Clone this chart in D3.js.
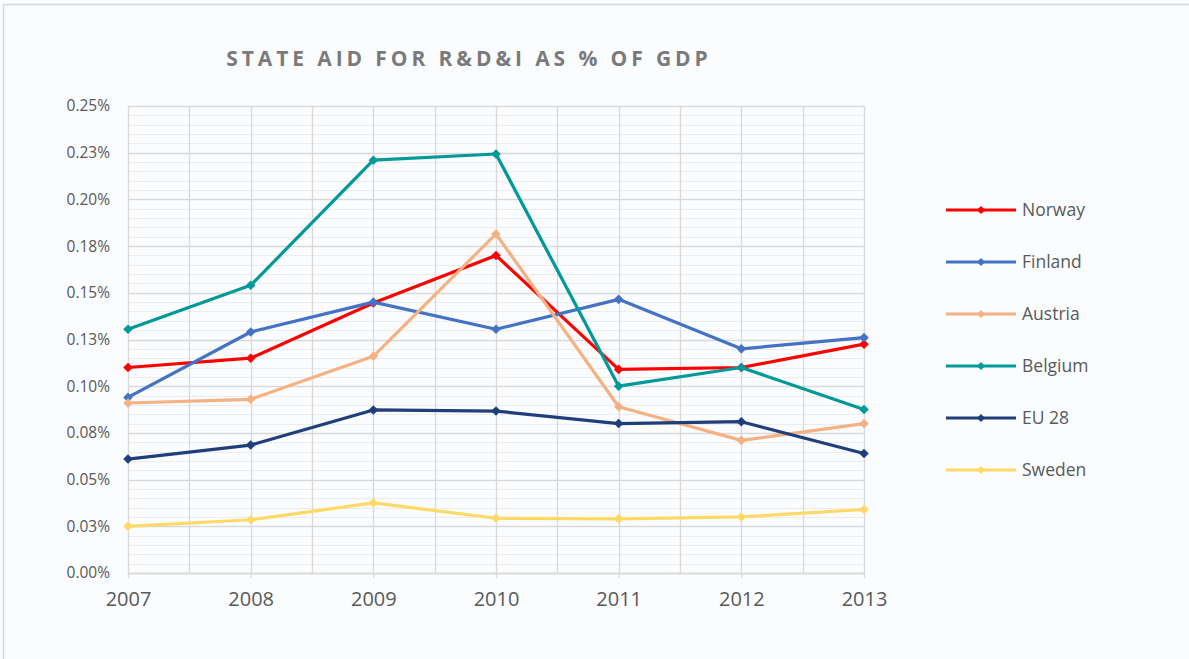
<!DOCTYPE html>
<html>
<head>
<meta charset="utf-8">
<script src="https://cdn.jsdelivr.net/npm/d3@7/dist/d3.min.js"></script>
<style>
  html, body { margin: 0; padding: 0; background: #fafcfe; }
  svg { display: block; }
</style>
</head>
<body>
<svg id="chart" width="1189" height="659"></svg>
<script>
// Years on the x axis
const years = [2007, 2008, 2009, 2010, 2011, 2012, 2013];

// State aid for R&D&I, % of GDP
const norway  = [0.110, 0.115, 0.1445, 0.170, 0.109, 0.110, 0.1225];
const finland = [0.094, 0.129, 0.145, 0.1305, 0.1465, 0.120, 0.126];
const austria = [0.091, 0.093, 0.116, 0.1815, 0.089, 0.071, 0.080];
const belgium = [0.1305, 0.154, 0.221, 0.2243, 0.100, 0.110, 0.0875];
const eu28    = [0.061, 0.0685, 0.0873, 0.0867, 0.080, 0.081, 0.064];
const sweden  = [0.025, 0.0285, 0.0375, 0.0293, 0.029, 0.030, 0.034];

const seriesNames = ["Norway", "Finland", "Austria", "Belgium", "EU 28", "Sweden"];
const seriesColors = ["#ff0000", "#4472c4", "#f4b183", "#009999", "#1f3f7a", "#ffd966"];
const seriesValues = [norway, finland, austria, belgium, eu28, sweden];

const yTicks = [0, 0.025, 0.05, 0.075, 0.1, 0.125, 0.15, 0.175, 0.2, 0.225, 0.25];

const svg = d3.select("#chart");

// outer frame
svg.append("path")
  .attr("d", "M3.5,659 L3.5,4.5 L1189,4.5")
  .attr("fill", "none").attr("stroke", "#d9d9d9").attr("stroke-width", 1.5);

const plotLeft = 128, plotRight = 864, plotTop = 106, plotBottom = 573;

const x = d3.scaleLinear().domain([2007, 2013]).range([plotLeft, plotRight]);
const y = d3.scaleLinear().domain([0, 0.25]).range([plotBottom, plotTop]);

const grid = svg.append("g");

// minor horizontal grid
const minor = d3.range(0, 0.2501, 0.005).filter(v => Math.abs(Math.round(v / 0.025) * 0.025 - v) > 1e-6);
grid.selectAll("line.minor").data(minor).join("line")
  .attr("class", "minor")
  .attr("x1", plotLeft).attr("x2", plotRight)
  .attr("y1", d => Math.round(y(d)) + 0.5).attr("y2", d => Math.round(y(d)) + 0.5)
  .attr("stroke", "#ececec").attr("stroke-width", 1);

// vertical grid every half year
const vlines = d3.range(2007, 2013.01, 0.5);
grid.selectAll("line.v").data(vlines).join("line")
  .attr("class", "v")
  .attr("x1", d => Math.round(x(d)) + 0.5).attr("x2", d => Math.round(x(d)) + 0.5)
  .attr("y1", plotTop).attr("y2", plotBottom)
  .attr("stroke", "#d9d9d9").attr("stroke-width", 1.3);

// major horizontal grid
grid.selectAll("line.major").data(yTicks).join("line")
  .attr("class", "major")
  .attr("x1", plotLeft).attr("x2", plotRight)
  .attr("y1", d => Math.round(y(d)) + 0.5).attr("y2", d => Math.round(y(d)) + 0.5)
  .attr("stroke", "#d9d9d9").attr("stroke-width", 1.3);

// y axis labels, rounded half up to two decimals
const pct = d => (Math.round(d * 100 + 1e-9) / 100).toFixed(2) + "%";
const yAxis = d3.axisLeft(y).tickValues(yTicks).tickFormat(pct).tickSize(0).tickPadding(18);
const gy = svg.append("g").attr("transform", `translate(${plotLeft},0)`).call(yAxis);
gy.select(".domain").remove();
gy.selectAll("text")
  .attr("fill", "#595959").style("font-family", "'Open Sans', 'Noto Sans', sans-serif").style("font-size", "15.5px");

// x axis with ticks extending below the plot
const xAxis = d3.axisBottom(x).tickValues(years).tickFormat(d3.format("d"))
  .tickSizeInner(5).tickSizeOuter(0).tickPadding(14);
const gx = svg.append("g").attr("transform", `translate(0,${plotBottom})`).call(xAxis);
gx.select(".domain").attr("stroke", "#d9d9d9").attr("stroke-width", 1.3);
gx.selectAll(".tick line").attr("stroke", "#d9d9d9").attr("stroke-width", 1.3);
gx.selectAll("text")
  .attr("fill", "#595959").style("font-family", "'Open Sans', 'Noto Sans', sans-serif").style("font-size", "20px");

// title
svg.append("text")
  .attr("x", 469).attr("y", 66).attr("text-anchor", "middle")
  .attr("fill", "#7a7a7a")
  .style("font-family", "'Open Sans', 'Noto Sans', sans-serif")
  .style("font-size", "21px").style("font-weight", "bold").style("letter-spacing", "3.9px")
  .text("STATE AID FOR R&D&I AS % OF GDP");

// square diamond marker: a square turned by 45 degrees
const marker = size => d3.symbol().type(d3.symbolSquare).size(size);

// lines and markers
const line = d3.line().x((d, i) => x(years[i])).y(d => y(d));

seriesValues.forEach((vals, si) => {
  const g = svg.append("g");
  g.append("path").datum(vals)
    .attr("d", line).attr("fill", "none")
    .attr("stroke", seriesColors[si]).attr("stroke-width", 3.2)
    .attr("stroke-linejoin", "round").attr("stroke-linecap", "round");
  g.selectAll("path.m").data(vals).join("path")
    .attr("class", "m")
    .attr("transform", (d, i) => `translate(${x(years[i])},${y(d)}) rotate(45)`)
    .attr("d", marker(46))
    .attr("fill", seriesColors[si]);
});

// legend
const legend = svg.append("g");
seriesNames.forEach((name, i) => {
  const ly = 210 + i * 52;
  legend.append("line")
    .attr("x1", 946).attr("x2", 1016).attr("y1", ly).attr("y2", ly)
    .attr("stroke", seriesColors[i]).attr("stroke-width", 3);
  legend.append("path")
    .attr("transform", `translate(981,${ly}) rotate(45)`)
    .attr("d", marker(34))
    .attr("fill", seriesColors[i]);
  legend.append("text")
    .attr("x", 1022).attr("y", ly).attr("dy", "0.35em")
    .attr("fill", "#595959")
    .style("font-family", "'Open Sans', 'Noto Sans', sans-serif").style("font-size", "17.5px")
    .text(name);
});
</script>
</body>
</html>
